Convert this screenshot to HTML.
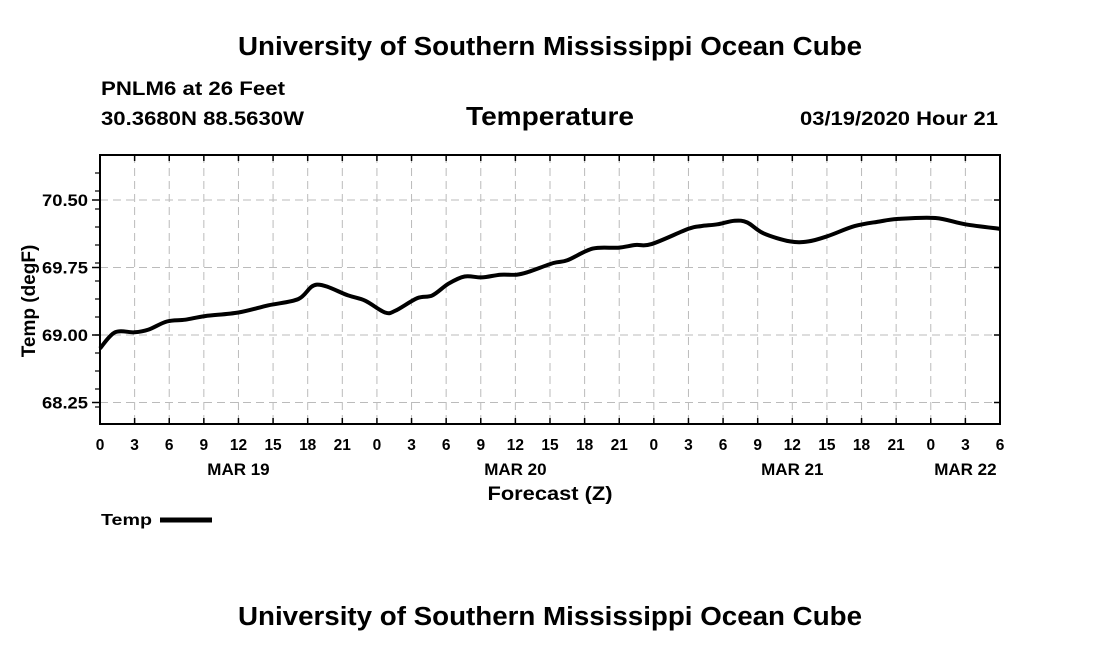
<!DOCTYPE html>
<html><head><meta charset="utf-8"><style>
body{margin:0;background:#fff;width:1100px;height:650px;overflow:hidden;font-family:"Liberation Sans",sans-serif}
svg text{font-family:"Liberation Sans",sans-serif;fill:#000;font-weight:bold}
</style></head><body>
<svg id="chart" width="1100" height="650" xmlns="http://www.w3.org/2000/svg">
<text x="550" y="55" text-anchor="middle" font-size="25.5" textLength="624" lengthAdjust="spacingAndGlyphs">University of Southern Mississippi Ocean Cube</text>
<text x="101" y="95" font-size="19.5" textLength="184" lengthAdjust="spacingAndGlyphs">PNLM6 at 26 Feet</text>
<text x="101" y="125" font-size="19.5" textLength="203" lengthAdjust="spacingAndGlyphs">30.3680N 88.5630W</text>
<text x="550" y="125" text-anchor="middle" font-size="26" textLength="168" lengthAdjust="spacingAndGlyphs">Temperature</text>
<text x="998" y="125" text-anchor="end" font-size="19.5" textLength="198" lengthAdjust="spacingAndGlyphs">03/19/2020 Hour 21</text>
<g id="grid"></g>
<g id="axes"></g>
<g id="series"></g>
<rect x="100" y="155" width="900" height="269" fill="none" stroke="#000" stroke-width="2"/>
<text transform="translate(35,301) rotate(-90)" text-anchor="middle" font-size="19">Temp (degF)</text>
<text x="550" y="500" text-anchor="middle" font-size="19" textLength="125" lengthAdjust="spacingAndGlyphs">Forecast (Z)</text>
<text x="101" y="525" font-size="16" textLength="51" lengthAdjust="spacingAndGlyphs">Temp</text>
<line x1="160" y1="520" x2="212" y2="520" stroke="#000" stroke-width="5"/>
<text x="550" y="625" text-anchor="middle" font-size="25.5" textLength="624" lengthAdjust="spacingAndGlyphs">University of Southern Mississippi Ocean Cube</text>
</svg>
<script>
const hours=[0,1.3,3,4.2,5.8,7.4,9.1,12,14.6,17.2,18.8,21.5,23,24.7,25.6,27.5,28.8,30.2,31.6,33.1,34.7,36.1,37.1,39.3,40.5,42.7,44.9,46.4,47.8,51,52.1,53.5,55,56.1,57.5,59.8,61.4,63.1,65.4,67.5,69.2,72.4,75,78];
const temps=[68.85,69.03,69.03,69.06,69.15,69.17,69.21,69.25,69.33,69.40,69.56,69.44,69.38,69.25,69.27,69.41,69.44,69.57,69.65,69.64,69.67,69.67,69.70,69.80,69.83,69.96,69.97,70.00,70.01,70.18,70.21,70.23,70.27,70.25,70.13,70.04,70.04,70.10,70.21,70.26,70.29,70.30,70.23,70.18];
const yTicks=[68.25,69.00,69.75,70.50];
const yTickLabels=["68.25","69.00","69.75","70.50"];
const xTickLabels=["0","3","6","9","12","15","18","21","0","3","6","9","12","15","18","21","0","3","6","9","12","15","18","21","0","3","6"];
const dayLabels=["MAR 19","MAR 20","MAR 21","MAR 22"];
const dayHours=[12,36,60,75];
const NS="http://www.w3.org/2000/svg";
const X=h=>100+h*900/78;
const Y=v=>200+(70.5-v)*90;
function mk(tag,attrs,parent,txt){const e=document.createElementNS(NS,tag);for(const k in attrs)e.setAttribute(k,attrs[k]);if(txt!==undefined)e.textContent=txt;parent.appendChild(e);return e;}
const grid=document.getElementById('grid'),axes=document.getElementById('axes'),series=document.getElementById('series');
xTickLabels.forEach((l,i)=>{const x=X(i*3);
 if(i>0&&i<26){const g=mk('line',{x1:x,y1:155,x2:x,y2:424,stroke:'#bbb','stroke-width':1,'stroke-dasharray':'8,5'},grid);
 
 }
 mk('line',{x1:x,y1:155,x2:x,y2:161,stroke:'#000','stroke-width':1.5},axes);
 mk('line',{x1:x,y1:424,x2:x,y2:418,stroke:'#000','stroke-width':1.5},axes);
 const t=mk('text',{x:x,y:450,'text-anchor':'middle','font-size':15.5},axes,l);
 
 
});
dayLabels.forEach((l,i)=>{const t=mk('text',{x:X(dayHours[i]),y:475,'text-anchor':'middle','font-size':17},axes,l);
 
 });
yTicks.forEach((v,i)=>{const y=Y(v);
 const g=mk('line',{x1:100,y1:y,x2:1000,y2:y,stroke:'#bbb','stroke-width':1,'stroke-dasharray':'8,5'},grid);
 
 
 mk('line',{x1:92,y1:y,x2:100,y2:y,stroke:'#000','stroke-width':1.5},axes);
 mk('line',{x1:994,y1:y,x2:1000,y2:y,stroke:'#000','stroke-width':1.5},axes);
 const t=mk('text',{x:88,y:y+6,'text-anchor':'end','font-size':16.5,textLength:46,lengthAdjust:'spacingAndGlyphs'},axes,yTickLabels[i]);
 
 
});
for(let v=68.2;v<=70.85;v+=0.2){const y=Y(v);if(y<156||y>423)continue;mk('line',{x1:95,y1:y,x2:100,y2:y,stroke:'#000','stroke-width':1.2},axes);}
const pts=hours.map((h,i)=>[X(h),Y(temps[i])]);
let d='M'+pts[0][0]+','+pts[0][1];
for(let i=0;i<pts.length-1;i++){const p0=pts[Math.max(0,i-1)],p1=pts[i],p2=pts[i+1],p3=pts[Math.min(pts.length-1,i+2)];
 d+=' C'+(p1[0]+(p2[0]-p0[0])/6)+','+(p1[1]+(p2[1]-p0[1])/6)+' '+(p2[0]-(p3[0]-p1[0])/6)+','+(p2[1]-(p3[1]-p1[1])/6)+' '+p2[0]+','+p2[1];}
const line=mk('path',{d:d,fill:'none',stroke:'#000','stroke-width':4,'stroke-linejoin':'round'},series);


</script>
</body></html>
